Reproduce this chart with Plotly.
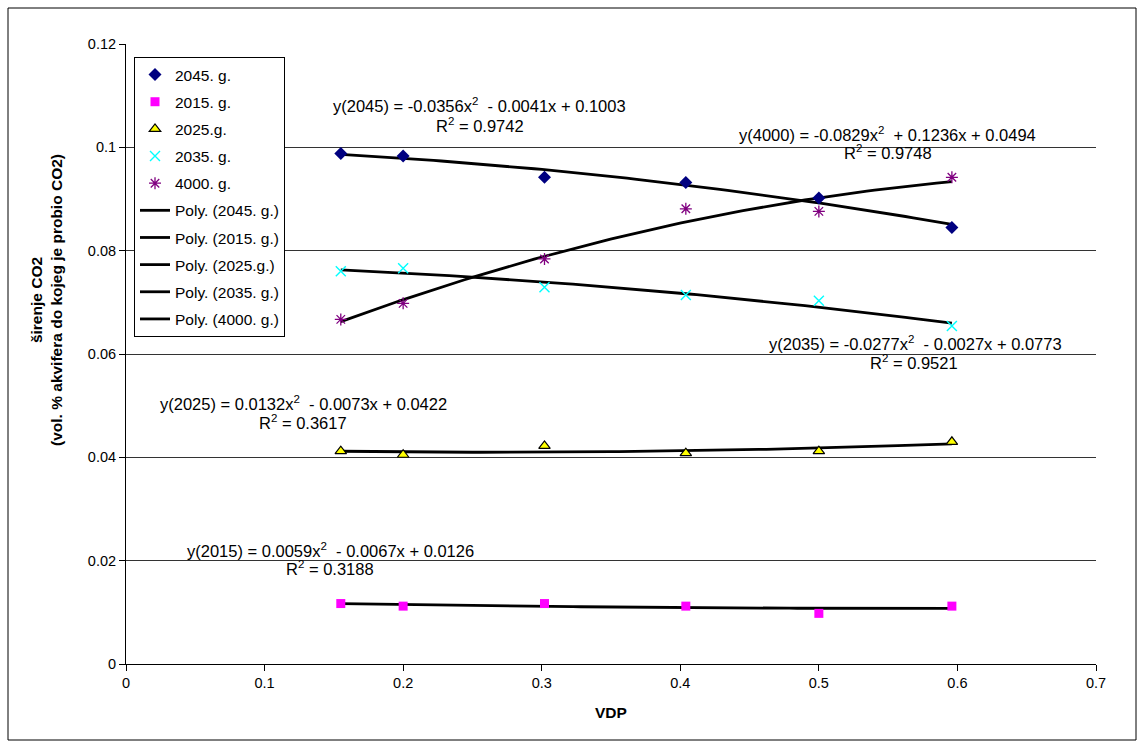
import numpy as np
import plotly.graph_objects as go

# ---- data ----
vdp = [0.155, 0.2, 0.302, 0.404, 0.5, 0.596]
y2045 = [0.0988, 0.0983, 0.0942, 0.0932, 0.0902, 0.0845]
y2015 = [0.0117, 0.0112, 0.0117, 0.0112, 0.0098, 0.0112]
y2025 = [0.0412, 0.0405, 0.0422, 0.0408, 0.0412, 0.0430]
y2035 = [0.0760, 0.0766, 0.0729, 0.0714, 0.0703, 0.0654]
y4000 = [0.0667, 0.0698, 0.0784, 0.0881, 0.0876, 0.0942]

series_names = ["2045. g.", "2015. g.", "2025.g.", "2035. g.", "4000. g."]
series_values = [y2045, y2015, y2025, y2035, y4000]

eq_line1 = [
    "y(2045) = -0.0356x<sup>2</sup>  - 0.0041x + 0.1003",
    "y(2015) = 0.0059x<sup>2</sup>  - 0.0067x + 0.0126",
    "y(2025) = 0.0132x<sup>2</sup>  - 0.0073x + 0.0422",
    "y(2035) = -0.0277x<sup>2</sup>  - 0.0027x + 0.0773",
    "y(4000) = -0.0829x<sup>2</sup>  + 0.1236x + 0.0494",
]
eq_line2 = ["R<sup>2</sup> = 0.9742", "R<sup>2</sup> = 0.3188", "R<sup>2</sup> = 0.3617",
            "R<sup>2</sup> = 0.9521", "R<sup>2</sup> = 0.9748"]

# ---- styling ----
FONT = "Liberation Sans, Arial, sans-serif"
FS = 15.5
FS_EQ = 16.5
FS_TICK = 14.5
markers = [
    dict(symbol="diamond", size=10, color="#000080", line=dict(width=0)),
    dict(symbol="square", size=9, color="#FF00FF", line=dict(width=0)),
    dict(symbol="triangle-up", size=10, color="#FFFF00", line=dict(width=1.2, color="#000000")),
    dict(symbol="x-thin-open", size=10, color="#00FFFF", line=dict(width=1.4, color="#00FFFF")),
    dict(symbol="asterisk-open", size=10, color="#800080", line=dict(width=1.3, color="#800080")),
]

# plot area in pixels: x 126..1096, y 44..664
PL, PR, PT, PB = 126, 1096, 44, 664
W, H = 1144, 749


def px(xp):
    return (xp - PL) / (PR - PL)


def py(yp):
    return (PB - yp) / (PB - PT)


fig = go.Figure()

# trend lines (drawn first, under markers)
xs = np.linspace(min(vdp), max(vdp), 80)
for i, (name, vals) in enumerate(zip(series_names, series_values)):
    coef = np.polyfit(vdp, vals, 2)
    fig.add_trace(go.Scatter(
        x=xs, y=np.polyval(coef, xs), mode="lines",
        line=dict(color="#000000", width=2.8),
        name=f"Poly. ({name})", legendgroup=f"p{i}", legendrank=100 + i,
        hoverinfo="skip",
    ))

for i, (name, vals) in enumerate(zip(series_names, series_values)):
    fig.add_trace(go.Scatter(
        x=vdp, y=vals, mode="markers", marker=markers[i],
        name=name, legendgroup=f"m{i}", legendrank=i,
    ))

# equation labels (pixel centres from the reference)
eq_pos = [
    ((479, 105), (480, 125)),   # 2045
    ((330, 550), (330, 568)),   # 2015
    ((303, 403), (303, 422)),   # 2025
    ((915, 343), (914, 362)),   # 2035
    ((887, 134), (888, 152)),   # 4000
]
ann = []
for (p1, p2), t1, t2 in zip(eq_pos, eq_line1, eq_line2):
    for (xx, yy), t in ((p1, t1), (p2, t2)):
        ann.append(dict(x=px(xx), y=py(yy), xref="paper", yref="paper", text=t,
                        showarrow=False, xanchor="center", yanchor="middle",
                        font=dict(family=FONT, size=FS_EQ, color="#000000")))

# axis titles
ann.append(dict(x=px(46), y=py(300), xref="paper", yref="paper",
                text="<b>širenje CO2<br>(vol. % akvifera do kojeg je probio CO2)</b>",
                textangle=-90, showarrow=False, xanchor="center", yanchor="middle",
                font=dict(family=FONT, size=FS, color="#000000")))
ann.append(dict(x=px(611), y=py(712), xref="paper", yref="paper", text="<b>VDP</b>",
                showarrow=False, xanchor="center", yanchor="middle",
                font=dict(family=FONT, size=FS, color="#000000")))

fig.update_layout(
    width=W, height=H,
    margin=dict(l=PL, r=W - PR, t=PT, b=H - PB),
    paper_bgcolor="#FFFFFF", plot_bgcolor="#FFFFFF",
    font=dict(family=FONT, size=FS, color="#000000"),
    showlegend=True,
    legend=dict(x=px(134), y=py(57), xanchor="left", yanchor="top",
                bgcolor="#FFFFFF", bordercolor="#000000", borderwidth=1,
                font=dict(family=FONT, size=FS, color="#000000"),
                traceorder="grouped", tracegroupgap=4, entrywidth=120),
    annotations=ann,
    shapes=[dict(type="rect", xref="paper", yref="paper",
                 x0=px(8), x1=px(1136), y0=py(740), y1=py(8),
                 line=dict(color="#000000", width=1), fillcolor="rgba(0,0,0,0)",
                 layer="below")],
)
fig.update_xaxes(range=[0, 0.7], dtick=0.1, tick0=0, showgrid=False, zeroline=False,
                 showline=True, linecolor="#000000", linewidth=1,
                 ticks="outside", ticklen=6, tickcolor="#000000",
                 tickfont=dict(family=FONT, size=FS_TICK))
fig.update_yaxes(range=[0, 0.12], dtick=0.02, tick0=0, showgrid=True,
                 gridcolor="#333333", gridwidth=1, zeroline=False,
                 showline=True, linecolor="#000000", linewidth=1,
                 ticks="outside", ticklen=6, tickcolor="#000000",
                 tickfont=dict(family=FONT, size=FS_TICK))

fig.write_html("out.html", config={"displayModeBar": False},
               post_script="document.body.style.margin='0';document.body.style.padding='0';")
